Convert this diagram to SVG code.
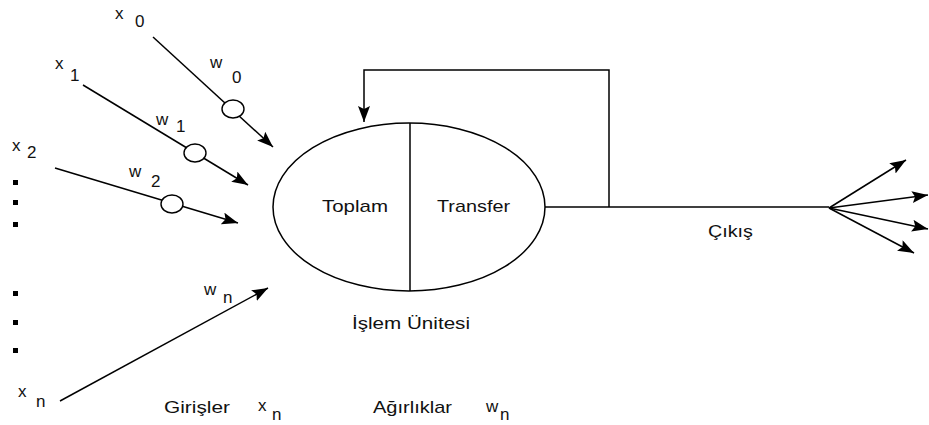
<svg xmlns="http://www.w3.org/2000/svg" width="929" height="425" viewBox="0 0 929 425">
<defs>
<style>
.ln{stroke:#000;stroke-width:1.5;fill:none}
.t{font-family:"Liberation Sans",Arial,sans-serif;font-size:17px;fill:#111}
.s{font-family:"Liberation Sans",Arial,sans-serif;font-size:17px;fill:#111}
.w{fill:#fff;stroke:#000;stroke-width:1.4}
.dot{fill:#000}
</style>
<marker id="ah" markerUnits="userSpaceOnUse" markerWidth="18" markerHeight="14" refX="16" refY="6" orient="auto">
<path d="M0,0 L16,6 L0,12 L3,6 Z" fill="#000"/>
</marker>
</defs>
<rect width="929" height="425" fill="#fff"/>
<g id="connectors">
<line class="ln" x1="153" y1="37" x2="273" y2="147" marker-end="url(#ah)"/>
<line class="ln" x1="83" y1="85" x2="248" y2="185" marker-end="url(#ah)"/>
<line class="ln" x1="55" y1="168" x2="238" y2="223" marker-end="url(#ah)"/>
<line class="ln" x1="60" y1="401" x2="268" y2="288" marker-end="url(#ah)"/>
<polyline class="ln" points="545,207 829,207"/>
<polyline class="ln" points="609,207 609,70 364,70 364,122" marker-end="url(#ah)"/>
<line class="ln" x1="829" y1="208" x2="906" y2="160" marker-end="url(#ah)"/>
<line class="ln" x1="829" y1="208" x2="928" y2="195" marker-end="url(#ah)"/>
<line class="ln" x1="829" y1="208" x2="928" y2="229" marker-end="url(#ah)"/>
<line class="ln" x1="829" y1="208" x2="914" y2="253" marker-end="url(#ah)"/>
</g>
<g id="w0-node"><ellipse class="w" cx="233" cy="109" rx="11" ry="9"/></g>
<g id="w1-node"><ellipse class="w" cx="195" cy="153" rx="11" ry="9"/></g>
<g id="w2-node"><ellipse class="w" cx="172" cy="204" rx="11" ry="9"/></g>
<g id="unit">
<ellipse class="ln" cx="409" cy="207" rx="136" ry="84"/>
<line class="ln" x1="410" y1="123" x2="410" y2="291"/>
<text class="t" x="322" y="212" textLength="66" lengthAdjust="spacingAndGlyphs">Toplam</text>
<text class="t" x="437" y="212" textLength="73" lengthAdjust="spacingAndGlyphs">Transfer</text>
</g>
<g id="labels">
<text class="s" x="115" y="19">x</text><text class="s" x="135" y="27">0</text>
<text class="s" x="55" y="69">x</text><text class="s" x="70" y="81">1</text>
<text class="s" x="12" y="151">x</text><text class="s" x="27" y="158">2</text>
<text class="s" x="18" y="397">x</text><text class="s" x="36" y="407">n</text>
<text class="s" x="210" y="68">w</text><text class="s" x="232" y="83">0</text>
<text class="s" x="156" y="125">w</text><text class="s" x="176" y="132">1</text>
<text class="s" x="129" y="177">w</text><text class="s" x="151" y="187">2</text>
<text class="s" x="204" y="295">w</text><text class="s" x="223" y="303">n</text>
<rect class="dot" x="13" y="180" width="5" height="5"/>
<rect class="dot" x="13" y="200" width="5" height="5"/>
<rect class="dot" x="13" y="222" width="5" height="5"/>
<rect class="dot" x="13" y="291" width="5" height="5"/>
<rect class="dot" x="13" y="320" width="5" height="5"/>
<rect class="dot" x="13" y="348" width="5" height="5"/>
<text class="t" x="352" y="329" textLength="118" lengthAdjust="spacingAndGlyphs">İşlem Ünitesi</text>
<text class="t" x="708" y="237" textLength="45" lengthAdjust="spacingAndGlyphs">Çıkış</text>
<text class="t" x="164" y="413" textLength="66" lengthAdjust="spacingAndGlyphs">Girişler</text>
<text class="s" x="258" y="411">x</text><text class="s" x="272" y="420">n</text>
<text class="t" x="373" y="413" textLength="79" lengthAdjust="spacingAndGlyphs">Ağırlıklar</text>
<text class="s" x="486" y="412">w</text><text class="s" x="500" y="420">n</text>
</g>
</svg>
